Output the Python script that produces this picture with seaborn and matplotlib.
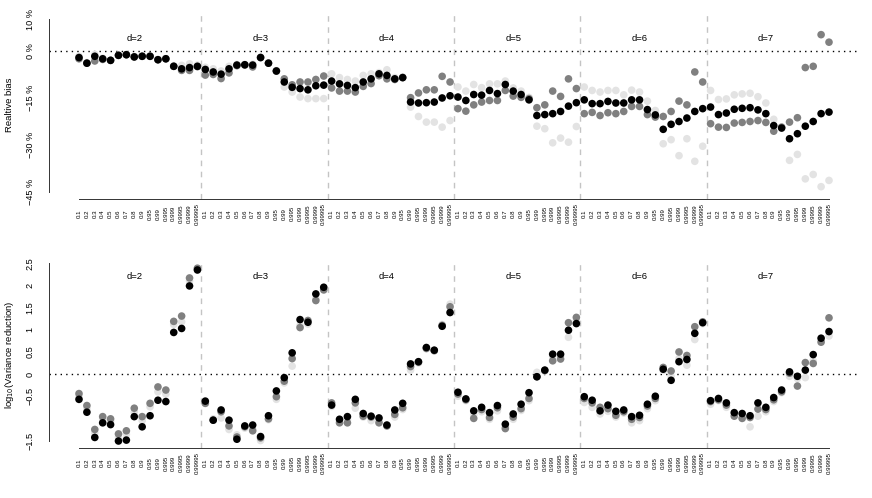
import numpy as np
import pandas as pd
import matplotlib
matplotlib.use("Agg")
import matplotlib.pyplot as plt
import seaborn as sns

# ---------------- data ----------------
dims = [2, 3, 4, 5, 6, 7]
probs = ["0.1", "0.2", "0.3", "0.4", "0.5", "0.6", "0.7", "0.8", "0.9",
         "0.95", "0.99", "0.995", "0.999", "0.9995", "0.9999", "0.99995"]

# Relative bias (%) per dimension, 16 quantile levels each
bias_black = [
    -2.2, -4.0, -1.8, -2.6, -3.1, -1.5, -1.3, -2.0, -1.8, -1.8, -2.9, -2.6, -5.0, -5.8, -5.4, -5.0,
    -6.0, -6.8, -7.5, -5.8, -4.6, -4.5, -4.6, -2.2, -4.0, -6.5, -10.0, -11.7, -12.1, -12.5, -11.2, -11.0,
    -9.7, -10.6, -11.1, -11.8, -10.0, -9.0, -7.4, -7.9, -9.0, -8.6, -16.4, -16.7, -16.6, -16.4, -15.1, -14.4,
    -14.8, -15.9, -14.0, -14.2, -12.7, -13.7, -10.8, -12.9, -14.0, -15.7, -20.7, -20.4, -20.1, -19.4, -17.7, -16.6,
    -15.7, -16.9, -16.9, -16.2, -16.7, -16.7, -15.7, -15.7, -18.8, -20.5, -25.1, -23.5, -22.6, -21.5, -19.4, -18.5,
    -18.0, -20.4, -19.9, -18.7, -18.4, -18.2, -18.9, -20.1, -23.9, -24.7, -28.1, -26.5, -24.1, -22.6, -20.1, -19.6,
]
bias_grey = [
    -2.6, -4.0, -3.3, -2.8, -3.1, -1.5, -1.3, -2.0, -1.8, -1.8, -2.9, -2.6, -5.0, -6.3, -6.3, -5.1,
    -7.8, -7.6, -8.9, -7.1, -4.8, -4.6, -5.2, -2.2, -4.0, -6.5, -9.0, -10.9, -10.0, -10.0, -9.2, -8.1,
    -11.9, -12.9, -12.9, -13.2, -11.4, -10.5, -8.0, -9.0, -9.2, -8.6, -15.0, -13.5, -12.5, -12.5, -8.2, -10.0,
    -18.5, -19.3, -17.3, -16.4, -15.9, -15.9, -12.7, -14.5, -14.9, -15.3, -18.2, -17.3, -12.9, -14.6, -9.0, -12.1,
    -20.1, -19.7, -20.7, -19.8, -20.1, -19.4, -17.8, -17.8, -20.4, -21.2, -21.0, -19.4, -16.1, -17.3, -6.8, -10.0,
    -23.3, -24.4, -24.5, -23.1, -22.9, -22.6, -22.3, -22.9, -25.7, -24.4, -22.8, -21.4, -5.4, -5.0, 5.1, 2.7,
]
bias_light = [
    -1.8, -3.8, -1.2, -2.4, -3.0, -1.4, -1.2, -1.9, -1.7, -1.7, -2.8, -2.5, -4.8, -4.7, -4.2, -4.6,
    -5.3, -5.8, -6.5, -5.0, -4.4, -4.4, -4.3, -2.1, -3.9, -6.4, -11.6, -13.2, -14.8, -15.3, -15.3, -15.3,
    -7.4, -8.6, -9.2, -9.7, -7.9, -7.4, -7.0, -6.1, -8.6, -8.4, -18.0, -21.0, -22.8, -22.8, -24.4, -22.3,
    -11.6, -12.9, -10.8, -11.8, -10.6, -10.6, -9.7, -11.9, -12.9, -14.9, -24.1, -24.9, -29.4, -27.9, -29.2, -24.2,
    -11.6, -12.7, -13.2, -12.7, -12.7, -14.1, -12.6, -13.2, -16.1, -19.1, -29.7, -28.4, -33.5, -28.1, -35.3, -30.5,
    -12.7, -15.6, -15.4, -14.1, -13.8, -13.6, -14.7, -16.7, -21.9, -24.4, -35.0, -33.1, -40.9, -39.5, -43.4, -41.4,
]

# log10(variance reduction)
vr_black = [
    -0.57, -0.86, -1.43, -1.10, -1.14, -1.51, -1.49, -0.96, -1.19, -0.94, -0.59, -0.62, 0.94, 1.03, 1.99, 2.35,
    -0.61, -1.04, -0.81, -1.04, -1.47, -1.17, -1.15, -1.41, -0.94, -0.38, -0.08, 0.48, 1.23, 1.17, 1.81, 1.96,
    -0.70, -1.02, -0.96, -0.57, -0.89, -0.95, -0.99, -1.15, -0.81, -0.66, 0.23, 0.28, 0.60, 0.54, 1.08, 1.39,
    -0.41, -0.56, -0.83, -0.75, -0.87, -0.71, -1.13, -0.90, -0.68, -0.42, -0.06, 0.09, 0.45, 0.45, 0.99, 1.14,
    -0.51, -0.59, -0.83, -0.70, -0.84, -0.81, -0.96, -0.93, -0.68, -0.50, 0.11, -0.14, 0.28, 0.33, 0.92, 1.16,
    -0.60, -0.55, -0.65, -0.87, -0.89, -0.94, -0.65, -0.75, -0.53, -0.36, 0.05, -0.05, 0.09, 0.44, 0.81, 0.96,
]
vr_grey = [
    -0.44, -0.71, -1.25, -0.96, -1.01, -1.35, -1.28, -0.77, -0.96, -0.66, -0.29, -0.36, 1.19, 1.31, 2.17, 2.39,
    -0.66, -1.04, -0.85, -1.17, -1.42, -1.19, -1.28, -1.44, -1.01, -0.51, -0.16, 0.35, 1.05, 1.21, 1.66, 1.90,
    -0.65, -1.10, -1.10, -0.65, -0.95, -0.97, -1.10, -1.17, -0.91, -0.76, 0.17, 0.27, 0.58, 0.53, 1.10, 1.52,
    -0.45, -0.58, -1.00, -0.80, -0.98, -0.76, -1.23, -0.97, -0.78, -0.55, -0.06, 0.08, 0.30, 0.34, 1.16, 1.28,
    -0.55, -0.65, -0.75, -0.78, -0.93, -0.85, -1.02, -0.98, -0.72, -0.55, 0.15, 0.07, 0.50, 0.42, 1.07, 1.18,
    -0.62, -0.58, -0.70, -0.95, -1.00, -0.98, -0.79, -0.80, -0.58, -0.40, 0.02, -0.27, 0.26, 0.24, 0.72, 1.27,
]
vr_light = [
    -0.50, -0.78, -1.33, -1.02, -1.06, -1.42, -1.36, -0.86, -1.05, -0.74, -0.40, -0.45, 1.12, 1.18, 2.10, 2.37,
    -0.66, -1.01, -0.99, -1.25, -1.37, -1.22, -1.25, -1.50, -1.03, -0.57, -0.20, 0.18, 1.10, 1.13, 1.70, 1.92,
    -0.73, -1.05, -1.03, -0.77, -0.97, -1.05, -1.05, -1.17, -0.97, -0.80, 0.09, 0.25, 0.57, 0.52, 1.12, 1.58,
    -0.50, -0.60, -0.92, -0.85, -1.02, -0.83, -1.18, -1.02, -0.82, -0.60, 0.04, 0.07, 0.40, 0.40, 0.83, 1.20,
    -0.64, -0.75, -0.90, -0.84, -0.97, -0.88, -1.10, -1.05, -0.78, -0.60, 0.08, -0.05, 0.35, 0.20, 0.78, 1.14,
    -0.68, -0.60, -0.75, -0.92, -0.97, -1.19, -0.95, -0.85, -0.62, -0.42, -0.05, -0.10, -0.08, 0.30, 0.75, 0.86,
]

series_names = ["light", "grey", "black"]          # drawing order (black on top)
palette = {"light": "#e3e3e3", "grey": "#808080", "black": "#000000"}

n_p = len(probs)
n_tot = n_p * len(dims)
positions = np.arange(n_tot)
tick_labels = probs * len(dims)


def long_frame(light, grey, black):
    frames = []
    for name, vals in zip(series_names, [light, grey, black]):
        frames.append(pd.DataFrame({"pos": positions, "value": vals, "series": name}))
    return pd.concat(frames, ignore_index=True)


df_bias = long_frame(bias_light, bias_grey, bias_black)
df_vr = long_frame(vr_light, vr_grey, vr_black)

# ---------------- figure ----------------
sns.set_style("white")
plt.rcParams["font.family"] = ["Liberation Sans", "DejaVu Sans"]
plt.rcParams["text.color"] = "black"
plt.rcParams["xtick.color"] = "black"
plt.rcParams["ytick.color"] = "black"

W, H = 872, 498
fig = plt.figure(figsize=(W / 100, H / 100), dpi=100)
ax1 = fig.add_axes([49 / W, 1 - 198.6 / H, 810 / W, 186.2 / H])
ax2 = fig.add_axes([49 / W, 1 - 447.9 / H, 810 / W, 186.6 / H])

panels = [
    (ax1, df_bias, (-47.2, 12.2), np.arange(-45, 11, 5),
     {10: "10 %", 0: "0 %", -15: "\u221215 %", -30: "\u221230 %", -45: "\u221245 %"}, 3.9, (-45, 10)),
    (ax2, df_vr, (-1.666, 2.546), np.arange(-1.5, 2.51, 0.5),
     {2.5: "2.5", 2.0: "2", 1.5: "1.5", 1.0: "1", 0.5: "0.5", 0.0: "0", -0.5: "\u22120.5", -1.5: "\u22121.5"},
     2.2, (-1.5, 2.5)),
]

for ax, df, ylim, yticks, ylabs, label_y, ybounds in panels:
    sns.scatterplot(data=df, x="pos", y="value", hue="series", hue_order=series_names,
                    palette=palette, s=30, linewidth=0, legend=False, ax=ax, zorder=3)
    ax.set_xlim(-3.8, 98.8)
    ax.set_ylim(*ylim)
    # group separators
    for k in range(1, len(dims)):
        ax.axvline(k * n_p - 0.5, color="#c4c4c4", lw=1.0, ls=(0, (4, 4)), zorder=1)
    ax.axhline(0, color="black", lw=1.0, ls=(0, (1, 3)), zorder=2)
    for k, d in enumerate(dims):
        ax.text(k * n_p + 7, label_y, f"d={d}", ha="center", va="center", fontsize=6.8)

    for s in ["top", "right"]:
        ax.spines[s].set_visible(False)
    ax.spines["left"].set_bounds(*ybounds)
    ax.spines["bottom"].set_bounds(0, n_tot - 1)
    for s in ["left", "bottom"]:
        ax.spines[s].set_linewidth(0.7)
        ax.spines[s].set_color("#333333")

    ax.set_yticks(yticks)
    ax.set_yticklabels([ylabs.get(round(float(t), 2), "") for t in yticks],
                       rotation=90, va="center", fontsize=6.6)
    ax.set_xticks(positions)
    ax.set_xticklabels(tick_labels, rotation=90, va="center", ha="center", fontsize=4.4)
    ax.tick_params(axis="y", length=3.3, width=0.7, color="#333333", pad=7)
    ax.tick_params(axis="x", length=3.3, width=0.7, color="#333333", pad=7.5)
    ax.set_xlabel("")
    ax.set_ylabel("")

fig.text(10 / W, 1 - 105 / H, "Realtive bias", rotation=90, ha="center", va="center", fontsize=6.8)
fig.text(10 / W, 1 - 355 / H, "log$_{10}$(Variance reduction)", rotation=90,
         ha="center", va="center", fontsize=6.8)

fig.savefig("out.png", dpi=100)
